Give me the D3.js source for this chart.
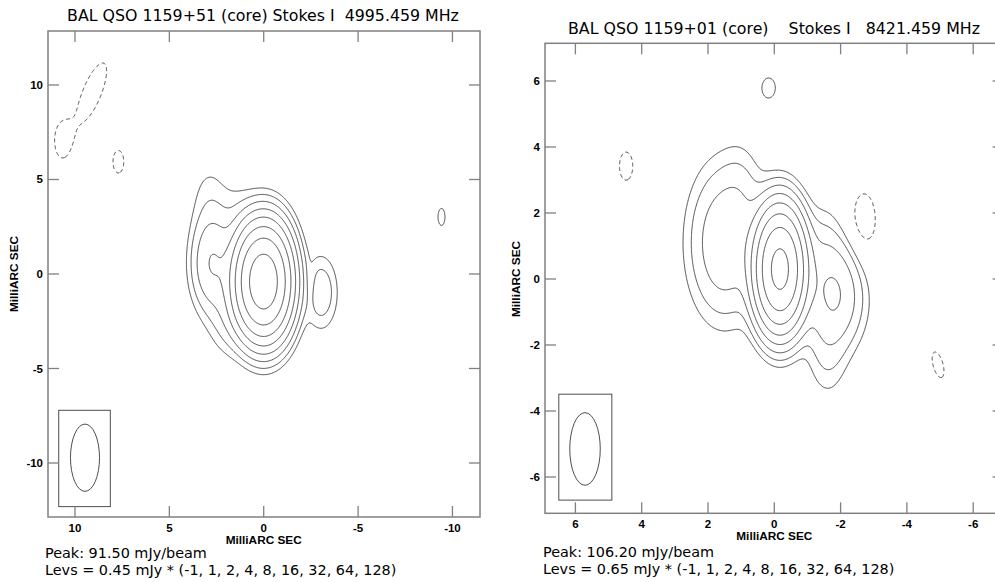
<!DOCTYPE html>
<html><head><meta charset="utf-8">
<script src="https://cdn.jsdelivr.net/npm/d3@7"></script>
<style>body{margin:0;background:#fff;overflow:hidden} text{white-space:pre}</style>
</head><body>
<svg id="chart" width="995" height="582"></svg>
<script>
// ---------------- DATA ----------------
const titles = ["BAL QSO 1159+51 (core) Stokes I  4995.459 MHz", "BAL QSO 1159+01 (core)    Stokes I   8421.459 MHz"];
const peakLabels = ["Peak: 91.50 mJy/beam", "Peak: 106.20 mJy/beam"];
const levLabels = ["Levs = 0.45 mJy * (-1, 1, 2, 4, 8, 16, 32, 64, 128)", "Levs = 0.65 mJy * (-1, 1, 2, 4, 8, 16, 32, 64, 128)"];
const axisLabel = "MilliARC SEC";
const levelMultipliers = [-1, 1, 2, 4, 8, 16, 32, 64, 128];
const baseLevels = [0.45, 0.65];
const ticksLeft = [10, 5, 0, -5, -10];
const ticksRight = [6, 4, 2, 0, -2, -4, -6];
// restoring beam (FWHM, mas) and beam-box position (mas)
const beamMaj = [3.56, 2.2];
const beamMin = [1.54, 0.92];
const beamCx = [9.47, 5.71];
const beamCy = [-9.72, -5.15];
const beamBoxX = [[10.86, 8.13], [6.5, 4.9]];
const beamBoxY = [[-7.21, -12.31], [-3.49, -6.7]];
// brightness components (x = RA offset mas, y = Dec offset mas, peak mJy, FWHM maj/min mas, PA deg)
const leftX    = [-0.1, 0.6, 2.75, 2.9, 1.5, 1.9, -3.05, -2.45, -9.42, 9.1, 10.69, 7.7];
const leftY    = [-0.4, -0.4, 0.55, 3.9, 2.9, -2.3, -0.98, -0.6, 3.02, 9.6, 7.1, 5.94];
const leftPeak = [80, 18, 3.55, 0.55, 0.45, 1.0, 1.45, -0.5, 0.5, -0.65, -0.6, -0.52];
const leftMaj  = [3.56, 3.56, 3.56, 3.56, 3.56, 3.0, 2.9, 2.0, 2.3, 4.6, 2.2, 2.6];
const leftMin  = [1.7, 1.55, 1.55, 1.55, 1.55, 1.55, 1.3, 0.5, 0.95, 1.35, 1.0, 1.25];
const leftPA   = [0, 0, 0, 0, 0, 0, 0, 0, 0, -22, 0, 0];
const rightX    = [-0.17, 1.5, 1.0, -1.8, -1.9, -1.45, -1.6, 0.17, 4.47, -2.7, -4.94];
const rightY    = [0.3, 1.1, 2.65, -0.6, -0.15, 0.7, -2.2, 5.79, 3.42, 1.76, -2.6];
const rightPeak = [103, 4.5, 0.8, 4.0, 1.2, 1.5, 1.2, 0.75, -0.75, -1.0, -0.75];
const rightMaj  = [2.2, 3.2, 2.2, 2.2, 2.2, 2.2, 2.2, 1.32, 1.87, 2.1, 1.76];
const rightMin  = [0.92, 1.5, 0.92, 1.3, 0.92, 0.92, 0.92, 0.88, 0.88, 0.9, 0.66];
const rightPA   = [0, 0, 0, 0, 0, 0, 0, 0, 0, 0, 15];

// ---------------- LAYOUT ----------------
const panels = [
  {px0: 48, px1: 480, py0: 31, py1: 517, xd: [11.43, -11.46], yd: [12.857, -12.857], ticks: ticksLeft, step: 0.04,
   comps: {x: leftX, y: leftY, p: leftPeak, a: leftMaj, b: leftMin, pa: leftPA},
   titleX: 263, titleY: 21, tickLabY: 532, axLabY: 544, yLabX: 18, footX: 45, footY: [558, 575]},
  {px0: 545, px1: 1003.6, py0: 43.3, py1: 513.3, xd: [6.917, -6.917], yd: [7.142, -7.1], ticks: ticksRight, step: 0.025,
   comps: {x: rightX, y: rightY, p: rightPeak, a: rightMaj, b: rightMin, pa: rightPA},
   titleX: 774, titleY: 34, tickLabY: 527.5, axLabY: 540, yLabX: 520, footX: 543, footY: [556.5, 574]}
];

const svg = d3.select("#chart");
const frameColor = "#808080";
const lineColor = "#3a3a3a";

panels.forEach((P, k) => {
  const x = d3.scaleLinear().domain(P.xd).range([P.px0, P.px1]);
  const y = d3.scaleLinear().domain(P.yd).range([P.py0, P.py1]);
  const g = svg.append("g");

  // brightness grid
  const nx = Math.ceil((P.xd[0] - P.xd[1]) / P.step) + 1;
  const ny = Math.ceil((P.yd[0] - P.yd[1]) / P.step) + 1;
  const C = P.comps, nc = C.x.length;
  const K = 4 * Math.LN2;
  const sn = C.pa.map(d => Math.sin(d * Math.PI / 180)), cs = C.pa.map(d => Math.cos(d * Math.PI / 180));
  const vals = new Float64Array(nx * ny);
  for (let j = 0; j < ny; j++) {
    const dy0 = P.yd[0] - j * P.step;
    for (let i = 0; i < nx; i++) {
      const dx0 = P.xd[0] - i * P.step;
      let s = 0;
      for (let c = 0; c < nc; c++) {
        const dx = dx0 - C.x[c], dy = dy0 - C.y[c];
        const u = dx * sn[c] + dy * cs[c];
        const v = dx * cs[c] - dy * sn[c];
        const e = K * (u * u / (C.a[c] * C.a[c]) + v * v / (C.b[c] * C.b[c]));
        if (e < 30) s += C.p[c] * Math.exp(-e);
      }
      vals[i + j * nx] = s;
    }
  }
  const neg = vals.map(v => -v);
  const proj = d3.geoTransform({
    point: function(gx, gy) {
      this.stream.point(x(P.xd[0] - (gx - 0.5) * P.step), y(P.yd[0] - (gy - 0.5) * P.step));
    }
  });
  const path = d3.geoPath(proj);
  const levels = levelMultipliers.map(m => m * baseLevels[k]);
  const posLevels = levels.filter(l => l > 0);
  const negLevels = levels.filter(l => l < 0).map(l => -l);

  const clipId = "clip" + k;
  svg.append("clipPath").attr("id", clipId).append("rect")
    .attr("x", P.px0).attr("y", P.py0).attr("width", P.px1 - P.px0).attr("height", P.py1 - P.py0);
  const cg = g.append("g").attr("clip-path", `url(#${clipId})`);

  cg.selectAll("path.pos").data(d3.contours().size([nx, ny]).thresholds(posLevels)(vals))
    .join("path").attr("class", "pos").attr("d", path)
    .attr("fill", "none").attr("stroke", lineColor).attr("stroke-width", 0.9);
  cg.selectAll("path.neg").data(d3.contours().size([nx, ny]).thresholds(negLevels)(neg))
    .join("path").attr("class", "neg").attr("d", path)
    .attr("fill", "none").attr("stroke", lineColor).attr("stroke-width", 0.9).attr("stroke-dasharray", "4,3");

  // beam box + ellipse
  g.append("rect")
    .attr("x", x(beamBoxX[k][0])).attr("y", y(beamBoxY[k][0]))
    .attr("width", x(beamBoxX[k][1]) - x(beamBoxX[k][0]))
    .attr("height", y(beamBoxY[k][1]) - y(beamBoxY[k][0]))
    .attr("fill", "none").attr("stroke", lineColor).attr("stroke-width", 0.9);
  g.append("ellipse")
    .attr("cx", x(beamCx[k])).attr("cy", y(beamCy[k]))
    .attr("rx", Math.abs(x(beamMin[k] / 2) - x(0))).attr("ry", Math.abs(y(beamMaj[k] / 2) - y(0)))
    .attr("fill", "none").attr("stroke", lineColor).attr("stroke-width", 0.9);

  // frame
  g.append("rect").attr("x", P.px0).attr("y", P.py0).attr("width", P.px1 - P.px0).attr("height", P.py1 - P.py0)
    .attr("fill", "none").attr("stroke", frameColor).attr("stroke-width", 1.5);

  // ticks (inward on all sides)
  const tl = 11;
  const font = "Liberation Sans, Arial, sans-serif";
  P.ticks.forEach(t => {
    g.append("line").attr("x1", x(t)).attr("x2", x(t)).attr("y1", P.py1).attr("y2", P.py1 - tl).attr("stroke", frameColor).attr("stroke-width", 1.3);
    g.append("line").attr("x1", x(t)).attr("x2", x(t)).attr("y1", P.py0).attr("y2", P.py0 + tl).attr("stroke", frameColor).attr("stroke-width", 1.3);
    g.append("line").attr("y1", y(t)).attr("y2", y(t)).attr("x1", P.px0).attr("x2", P.px0 + tl).attr("stroke", frameColor).attr("stroke-width", 1.3);
    g.append("line").attr("y1", y(t)).attr("y2", y(t)).attr("x1", P.px1).attr("x2", P.px1 - tl).attr("stroke", frameColor).attr("stroke-width", 1.3);
    g.append("text").attr("x", x(t)).attr("y", P.tickLabY).attr("text-anchor", "middle")
      .attr("font-family", font).attr("font-weight", "bold").attr("font-size", 11.5).text(t);
    g.append("text").attr("x", P.px0 - 5).attr("y", y(t) + 4).attr("text-anchor", "end")
      .attr("font-family", font).attr("font-weight", "bold").attr("font-size", 11.5).text(t);
  });

  // axis labels
  g.append("text").attr("x", x(0)).attr("y", P.axLabY).attr("text-anchor", "middle")
    .attr("font-family", font).attr("font-weight", "bold").attr("font-size", 11.8).text(axisLabel);
  g.append("text").attr("transform", `translate(${P.yLabX},${y(0)}) rotate(-90)`).attr("text-anchor", "middle")
    .attr("font-family", font).attr("font-weight", "bold").attr("font-size", 11.8).text(axisLabel);

  // title and footers
  g.append("text").attr("x", P.titleX).attr("y", P.titleY).attr("text-anchor", "middle")
    .attr("font-family", "DejaVu Sans, sans-serif").attr("font-size", 15.8).text(titles[k]);
  g.append("text").attr("x", P.footX).attr("y", P.footY[0])
    .attr("font-family", "DejaVu Sans, sans-serif").attr("font-size", 14.4).text(peakLabels[k]);
  g.append("text").attr("x", P.footX).attr("y", P.footY[1])
    .attr("font-family", "DejaVu Sans, sans-serif").attr("font-size", 14.4).text(levLabels[k]);
});
</script>
</body></html>
